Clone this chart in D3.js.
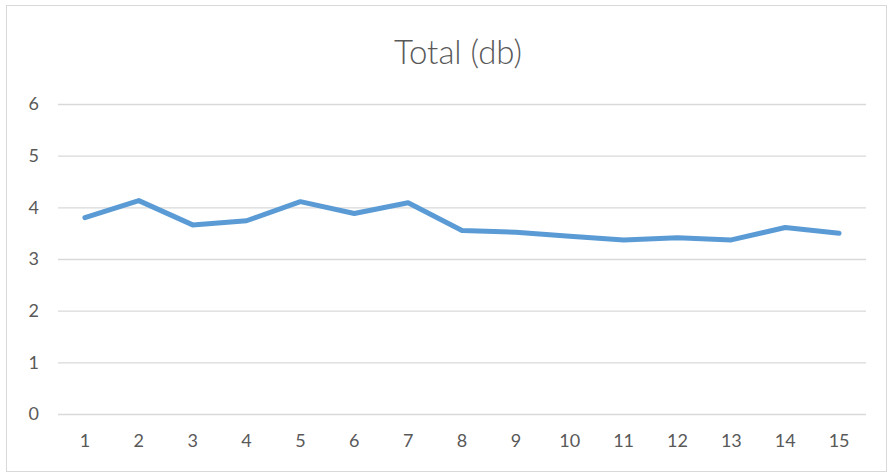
<!DOCTYPE html>
<html>
<head>
<meta charset="utf-8">
<script src="https://cdn.jsdelivr.net/npm/d3@7"></script>
<style>
  body { margin: 0; background: #fff; }
  svg { display: block; }
</style>
</head>
<body>
<div id="chart"></div>
<script>
const title = 'Total (db)';
const categories = ['1','2','3','4','5','6','7','8','9','10','11','12','13','14','15'];
const totals = [3.80, 4.13, 3.66, 3.74, 4.11, 3.88, 4.09, 3.55, 3.52, 3.44, 3.37, 3.41, 3.37, 3.61, 3.50];
const yTicks = [0, 1, 2, 3, 4, 5, 6];

const width = 895, height = 474;
const margin = { top: 104, right: 29, bottom: 60, left: 58 };
const font = 'Lato, "Open Sans", sans-serif';
const textColor = '#595959';

const svg = d3.select('#chart').append('svg')
  .attr('width', width).attr('height', height);

// chart border
svg.append('rect')
  .attr('x', 6.5).attr('y', 5.5)
  .attr('width', 880).attr('height', 466)
  .attr('fill', '#fff').attr('stroke', '#d9d9d9');

const x = d3.scaleBand()
  .domain(categories)
  .range([margin.left, width - margin.right]);

const y = d3.scaleLinear()
  .domain([0, 6])
  .range([height - margin.bottom, margin.top]);

svg.append('text')
  .attr('x', 458).attr('y', 64)
  .attr('text-anchor', 'middle')
  .style('font', `300 33px ${font}`)
  .attr('fill', textColor)
  .text(title);

// gridlines + y labels
const yAxis = svg.append('g')
  .attr('transform', `translate(${margin.left},0)`)
  .call(d3.axisLeft(y).tickValues(yTicks).tickFormat(d3.format('d'))
    .tickSize(-(width - margin.left - margin.right)).tickPadding(19));
yAxis.select('.domain').remove();
yAxis.selectAll('line').attr('stroke', '#d9d9d9').attr('stroke-width', 1.3);
yAxis.selectAll('text').style('font', `18px ${font}`).attr('fill', textColor);

// x labels
const xAxis = svg.append('g')
  .attr('transform', `translate(0,${height - margin.bottom})`)
  .call(d3.axisBottom(x).tickSize(0).tickPadding(20));
xAxis.select('.domain').remove();
xAxis.selectAll('text').style('font', `18px ${font}`).attr('fill', textColor);

const line = d3.line()
  .x((d, i) => x(categories[i]) + x.bandwidth() / 2)
  .y(d => y(d));

svg.append('path')
  .datum(totals)
  .attr('d', line)
  .attr('fill', 'none')
  .attr('stroke', '#5b9bd5')
  .attr('stroke-width', 5)
  .attr('stroke-linejoin', 'round')
  .attr('stroke-linecap', 'round');
</script>
</body>
</html>
